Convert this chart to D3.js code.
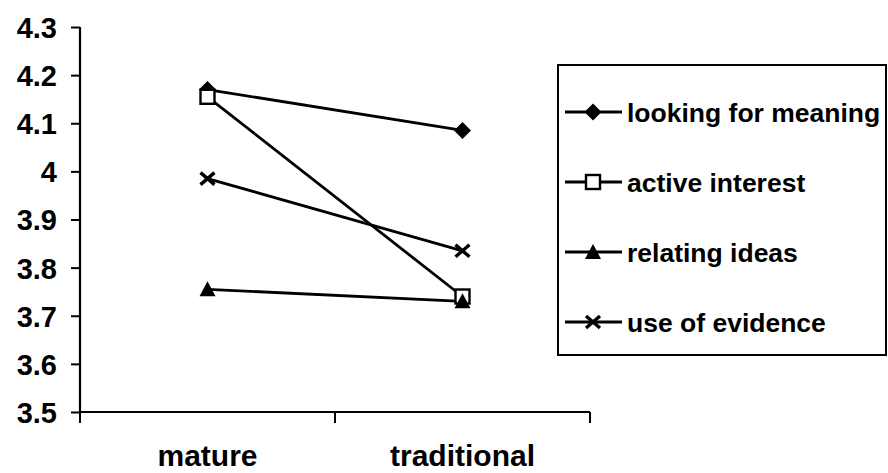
<!DOCTYPE html>
<html>
<head>
<meta charset="utf-8">
<script src="https://cdn.jsdelivr.net/npm/d3@7"></script>
<style>
  html, body { margin: 0; padding: 0; background: #fff; }
  svg { display: block; font-family: "Liberation Sans", Arial, sans-serif; font-weight: bold; }
</style>
</head>
<body>
<svg id="chart" width="888" height="473"></svg>
<script>
// Mean scores for two student groups on four approach-to-study scales
const categories = ["mature", "traditional"];
const seriesNames = ["looking for meaning", "active interest", "relating ideas", "use of evidence"];
const lookingForMeaning = [4.17, 4.085];
const activeInterest = [4.155, 3.74];
const relatingIdeas = [3.755, 3.73];
const useOfEvidence = [3.985, 3.835];
const yTicks = [3.5, 3.6, 3.7, 3.8, 3.9, 4, 4.1, 4.2, 4.3];
const markerKinds = ["diamond", "square", "triangle", "cross"];

const seriesValues = [lookingForMeaning, activeInterest, relatingIdeas, useOfEvidence];

const svg = d3.select("#chart");
const plot = { left: 80, right: 590, top: 27, bottom: 412 };

const x = d3.scaleBand().domain(categories).range([plot.left, plot.right]);
const y = d3.scaleLinear().domain([3.5, 4.3]).range([plot.bottom, plot.top]);

// Y axis
const yAxis = d3.axisLeft(y).tickValues(yTicks).tickSize(9).tickPadding(14)
  .tickFormat(d => String(+d.toFixed(1)));
const gy = svg.append("g").attr("transform", `translate(${plot.left},0)`).call(yAxis);
gy.select(".domain").attr("stroke", "#000").attr("stroke-width", 2.2).attr("d", `M0,${plot.top}V${plot.bottom}`);
gy.selectAll(".tick line").attr("stroke", "#000").attr("stroke-width", 2);
gy.selectAll(".tick text").attr("fill", "#000").attr("dy", "0.36em")
  .style("font-size", "29px").style("font-weight", "bold")
  .style("font-family", "'Liberation Sans', Arial, sans-serif");

// X axis with tick marks at the band boundaries
const gx = svg.append("g").attr("transform", `translate(0,${plot.bottom})`);
gx.append("line").attr("x1", plot.left).attr("x2", plot.right).attr("stroke", "#000").attr("stroke-width", 2.2);
const boundaries = [plot.left, ...categories.map(c => x(c) + x.bandwidth())];
gx.selectAll("line.bt").data(boundaries).join("line").attr("class", "bt")
  .attr("x1", d => d).attr("x2", d => d).attr("y1", 0).attr("y2", 11)
  .attr("stroke", "#000").attr("stroke-width", 2);
gx.selectAll("text").data(categories).join("text")
  .attr("x", d => x(d) + x.bandwidth() / 2).attr("y", 54)
  .attr("text-anchor", "middle").style("font-size", "30px").attr("fill", "#000")
  .text(d => d);

// Marker shapes
function drawMarker(g, kind) {
  if (kind === "diamond") {
    g.append("path").attr("d", "M0,-8.5L8.5,0L0,8.5L-8.5,0Z").attr("fill", "#000");
  } else if (kind === "square") {
    g.append("rect").attr("x", -7).attr("y", -7).attr("width", 14).attr("height", 14)
      .attr("fill", "#fff").attr("stroke", "#000").attr("stroke-width", 2.4);
  } else if (kind === "triangle") {
    g.append("path").attr("d", "M0,-8L8,7L-8,7Z").attr("fill", "#000");
  } else if (kind === "cross") {
    g.append("path").attr("d", "M-7,-6L7,6M-7,6L7,-6").attr("stroke", "#000").attr("stroke-width", 3.4);
  }
}

const line = d3.line().x((d, i) => x(categories[i]) + x.bandwidth() / 2).y(d => y(d));

seriesValues.forEach(vals => {
  svg.append("path").datum(vals).attr("d", line)
    .attr("fill", "none").attr("stroke", "#000").attr("stroke-width", 2.8);
});
seriesValues.forEach((vals, s) => {
  vals.forEach((v, i) => {
    const g = svg.append("g").attr("transform", `translate(${x(categories[i]) + x.bandwidth() / 2},${y(v)})`);
    drawMarker(g, markerKinds[s]);
  });
});

// Legend
const legend = svg.append("g");
legend.append("rect").attr("x", 558).attr("y", 65).attr("width", 328).attr("height", 290)
  .attr("fill", "none").attr("stroke", "#000").attr("stroke-width", 2);
const legendY = d3.scalePoint().domain(seriesNames).range([112, 322]);
seriesNames.forEach((name, s) => {
  const ly = legendY(name);
  legend.append("line").attr("x1", 565).attr("x2", 622).attr("y1", ly).attr("y2", ly)
    .attr("stroke", "#000").attr("stroke-width", 2.8);
  const g = legend.append("g").attr("transform", `translate(593,${ly})`);
  drawMarker(g, markerKinds[s]);
  legend.append("text").attr("x", 627).attr("y", ly).attr("dy", "0.36em")
    .style("font-size", "26.5px").attr("fill", "#000").text(name);
});
</script>
</body>
</html>
